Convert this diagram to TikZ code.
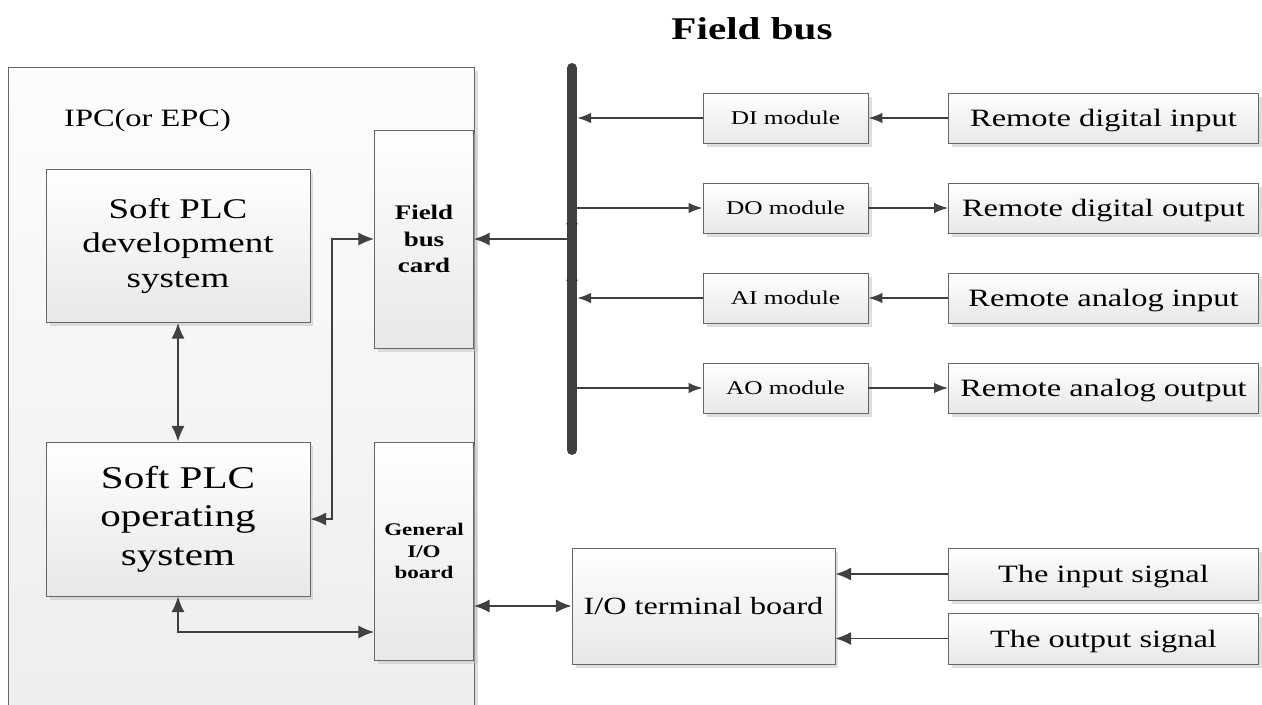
\documentclass[tikz,border=0pt]{standalone}
\usepackage{fontspec}
\setmainfont[FakeStretch=1.3]{Liberation Serif}
\usetikzlibrary{arrows.meta,shadows,calc}

\tikzset{
  blk/.style={draw=black!60, top color=white, bottom color=black!9, align=center, inner sep=2pt,
    drop shadow={shadow xshift=2pt,shadow yshift=-2pt,fill=black!25}},
  lnk/.style={draw=black!75, line width=1.1pt},
  small/.style={-{Latex[length=8pt,width=6pt]}},
}

\begin{document}
\begin{tikzpicture}[>={Latex[length=9pt,width=7.5pt]},x=0.02cm,y=-0.02cm]
    \useasboundingbox (0,0) rectangle (1262,704);
    \fill[white] (0,0) rectangle (1262,704);
    % the computer
    \node[blk,anchor=north west,minimum width=9.32cm,minimum height=13.3cm,top color=black!1,bottom color=black!7] (ipc) at (8,67) {};
    \node[anchor=west,font=\fontsize{14.2}{17}\selectfont] (ipclbl) at (58,120) {IPC(or EPC)};
    \node[blk,minimum width=5.28cm,minimum height=3.06cm,font=\fontsize{16.2}{19.8}\selectfont] (dev) at (178,246) {Soft PLC\\development\\system};
    \node[blk,minimum width=5.28cm,minimum height=3.08cm,font=\fontsize{18}{21.8}\selectfont] (os) at (178,519) {Soft PLC\\operating\\system};
    \node[blk,minimum width=1.98cm,minimum height=4.36cm,font=\bfseries\fontsize{11.8}{15}\selectfont] (fbcard) at (424,239) {Field\\bus\\card};
    \node[blk,minimum width=1.98cm,minimum height=4.36cm,font=\bfseries\fontsize{10.1}{12}\selectfont] (gio) at (424,551) {General\\I/O\\board};
    % bus
    \node[font=\bfseries\fontsize{18}{21}\selectfont] (title) at (752,29) {Field bus};
    \draw[black!75,line width=5.7pt,line cap=round] (572,68) coordinate (bustop) -- (572,450) coordinate (busbot);
    \coordinate (bus) at (577,0);
    \draw[black!75,line width=0.8pt,-{Latex[length=6pt,width=7pt]}] (572,220) coordinate (tipa) -- (572,234);
    \draw[black!75,line width=0.8pt,-{Latex[length=6pt,width=7pt]}] (572,284) coordinate (tipb) -- (572,270);
    % modules
    \foreach \nm/\yy/\txt in {DI/118/Remote digital input, DO/208/Remote digital output,
        AI/298/Remote analog input, AO/388/Remote analog output} {
      \node[blk,minimum width=3.3cm,minimum height=1cm,text depth=0pt,font=\fontsize{11.1}{13}\selectfont] (\nm) at (785.5,\yy) {\nm\ module};
      \node[blk,minimum width=6.2cm,minimum height=1cm,text depth=0pt,font=\fontsize{14.2}{17}\selectfont] (r\nm) at (1103.5,\yy) {\txt};
    }
    \foreach \nm in {DI,AI} {
      \draw[lnk,small] (\nm.west) -- (\nm.west -| bus);
      \draw[lnk,small] (r\nm) -- (\nm);
    }
    \foreach \nm in {DO,AO} {
      \draw[lnk,small] (\nm.west -| bus) -- (\nm.west);
      \draw[lnk,small] (\nm) -- (r\nm);
    }
    % I/O side
    \node[blk,minimum width=5.26cm,minimum height=2.32cm,text depth=0pt,font=\fontsize{14.1}{17}\selectfont] (term) at (703.5,606) {I/O terminal board};
    \node[blk,minimum width=6.2cm,minimum height=1.04cm,text depth=0pt,font=\fontsize{14.2}{17}\selectfont] (insig) at (1103.5,574) {The input signal};
    \node[blk,minimum width=6.2cm,minimum height=1.02cm,text depth=0pt,font=\fontsize{14.2}{17}\selectfont] (outsig) at (1103.5,638.5) {The output signal};
    % links
    \draw[lnk,<->] (dev) -- (os);
    \draw[lnk,<-] (fbcard.east) -- (fbcard.east -| bus);
    \draw[lnk,<->] (fbcard.west) -- ++(-42,0) |- (os.east);
    \draw[lnk,<->] (os.south) |- ($(gio.west)+(0,81)$);
    \draw[lnk,<->] (gio.east |- term.west) -- (term.west);
    \draw[lnk,->] (insig.west) -- (insig.west -| term.east);
    \draw[lnk,->] (outsig.west) -- (outsig.west -| term.east);
\end{tikzpicture}
\end{document}
